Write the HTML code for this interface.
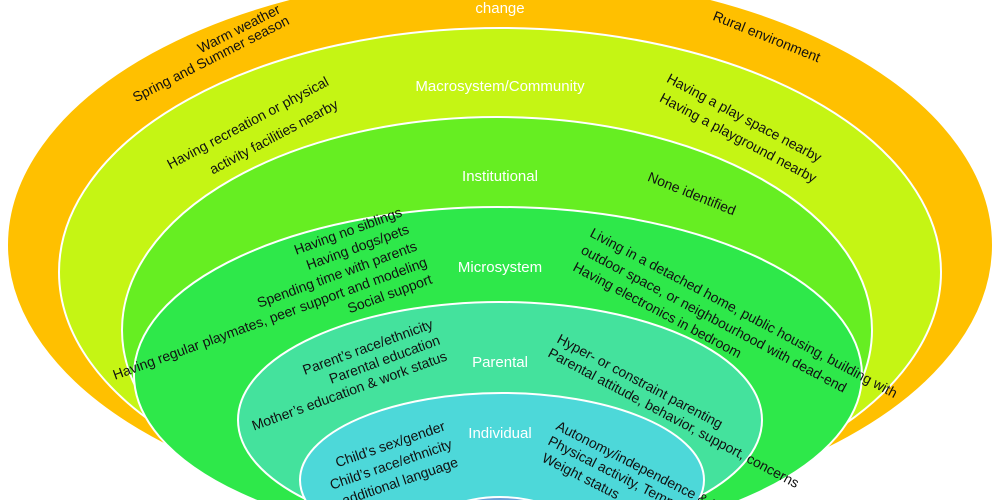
<!DOCTYPE html>
<html><head><meta charset="utf-8"><style>
html,body{margin:0;padding:0;background:#fff;overflow:hidden;width:1000px;height:500px;}
svg{display:block;}
text{font-family:"Liberation Sans",sans-serif;}
.l{fill:#fff;font-size:15px;text-anchor:middle;}
.t{fill:#111;font-size:14px;text-anchor:middle;}
.e{fill:#111;font-size:14px;text-anchor:end;}
.s{fill:#111;font-size:14px;text-anchor:start;}
</style></head><body>
<svg width="1000" height="500" viewBox="0 0 1000 500" xmlns="http://www.w3.org/2000/svg">
<g stroke="#fff" stroke-width="2">
<ellipse cx="500" cy="245" rx="493" ry="272" fill="#FFC000"/>
<ellipse cx="500" cy="272" rx="441" ry="244" fill="#C5F514"/>
<ellipse cx="497" cy="330" rx="375" ry="213" fill="#66EE22"/>
<ellipse cx="498" cy="375" rx="364" ry="168" fill="#2EE84A"/>
<ellipse cx="500" cy="420" rx="262" ry="118" fill="#44E29D"/>
<ellipse cx="502" cy="480" rx="202" ry="87" fill="#4DD8D9"/>
<ellipse cx="500" cy="535" rx="75" ry="38" fill="#6A9FD8"/>
</g>
<text class="l" x="500" y="13">change</text>
<text class="l" x="500" y="91">Macrosystem/Community</text>
<text class="l" x="500" y="181">Institutional</text>
<text class="l" x="500" y="272">Microsystem</text>
<text class="l" x="500" y="367">Parental</text>
<text class="l" x="500" y="438">Individual</text>

<text class="t" transform="translate(241,33) rotate(-27)">Warm weather</text>
<text class="t" transform="translate(213,63) rotate(-27)">Spring and Summer season</text>
<text class="t" transform="translate(765,41) rotate(22)">Rural environment</text>
<text class="t" transform="translate(250,127) rotate(-28)">Having recreation or physical</text>
<text class="t" transform="translate(276,141) rotate(-28)">activity facilities nearby</text>
<text class="t" transform="translate(742,122) rotate(28)">Having a play space nearby</text>
<text class="t" transform="translate(736,142) rotate(28)">Having a playground nearby</text>
<text class="t" transform="translate(690,198) rotate(22)">None identified</text>

<text class="e" transform="translate(403,216) rotate(-20)">Having no siblings</text>
<text class="e" transform="translate(410,233) rotate(-20)">Having dogs/pets</text>
<text class="e" transform="translate(418,250) rotate(-20)">Spending time with parents</text>
<text class="e" transform="translate(428,266) rotate(-20)">Having regular playmates, peer support and modeling</text>
<text class="e" transform="translate(433,283) rotate(-20)">Social support</text>

<text class="s" transform="translate(589,236) rotate(28)">Living in a detached home, public housing, building with</text>
<text class="s" transform="translate(580,253) rotate(28)">outdoor space, or neighbourhood with dead-end</text>
<text class="s" transform="translate(572,270) rotate(28)">Having electronics in bedroom</text>

<text class="e" transform="translate(434,328) rotate(-20)">Parent’s race/ethnicity</text>
<text class="e" transform="translate(441,344) rotate(-20)">Parental education</text>
<text class="e" transform="translate(448,360) rotate(-20)">Mother’s education &amp; work status</text>

<text class="s" transform="translate(556,342) rotate(28)">Hyper- or constraint parenting</text>
<text class="s" transform="translate(547,356) rotate(28)">Parental attitude, behavior, support, concerns</text>

<text class="e" transform="translate(446,430) rotate(-19)">Child’s sex/gender</text>
<text class="e" transform="translate(453,448) rotate(-19)">Child’s race/ethnicity</text>
<text class="e" transform="translate(459,466) rotate(-19)">Speaks additional language</text>

<text class="s" transform="translate(555,429) rotate(27)">Autonomy/independence &amp; Interest</text>
<text class="s" transform="translate(547,444) rotate(27)">Physical activity, Temperament</text>
<text class="s" transform="translate(541,461) rotate(27)">Weight status</text>
</svg>
</body></html>
